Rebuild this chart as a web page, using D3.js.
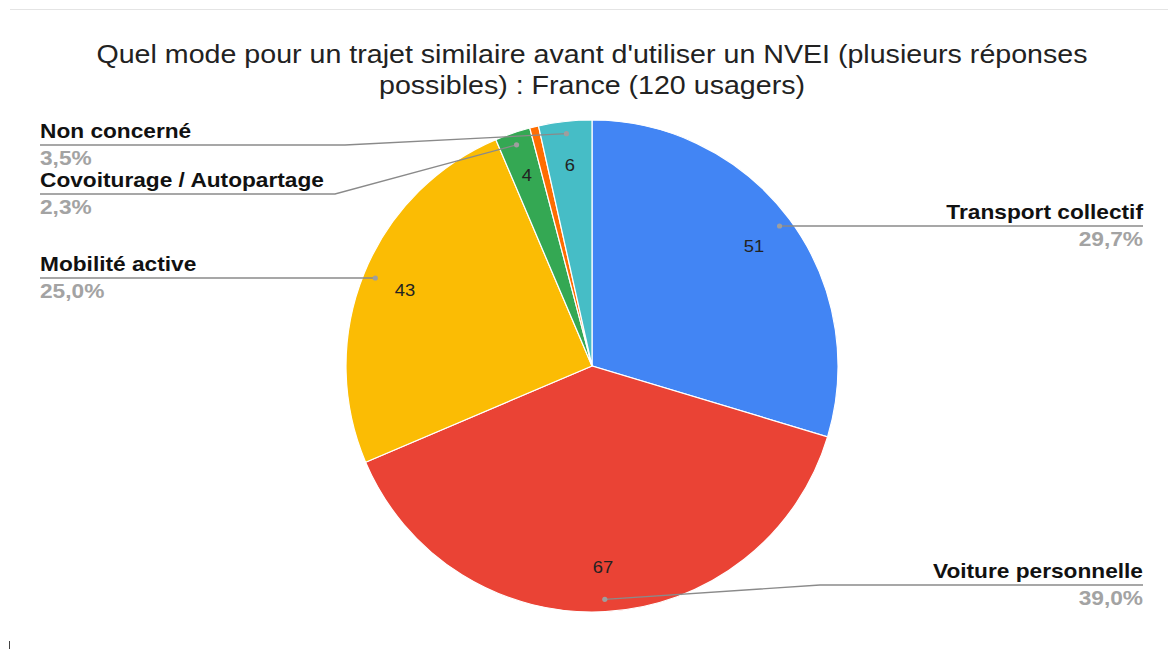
<!DOCTYPE html>
<html>
<head>
<meta charset="utf-8">
<script src="https://cdn.jsdelivr.net/npm/d3@7"></script>
<style>
  html, body { margin: 0; padding: 0; background: #fff; }
  svg { display: block; font-family: "Liberation Sans", Arial, sans-serif; }
</style>
</head>
<body>
<svg id="chart" width="1169" height="650"></svg>
<script>
// Survey answers, in drawing order (clockwise from 12 o'clock)
const categories = ["Transport collectif", "Voiture personnelle", "Mobilité active",
                    "Covoiturage / Autopartage", "Autre", "Non concerné"];
const values = [51, 67, 43, 4, 1, 6];
const colors = ["#4285F4", "#EA4335", "#FBBC04", "#34A853", "#FF6D01", "#46BDC6"];
const titleLines = ["Quel mode pour un trajet similaire avant d'utiliser un NVEI (plusieurs réponses",
                    "possibles) : France (120 usagers)"];

// Outside label placement: side, y of the underline, x of the bend (null = straight)
const callouts = [
  { i: 0, side: "right", y: 226, bend: null },
  { i: 1, side: "right", y: 585, bend: 820 },
  { i: 2, side: "left",  y: 278, bend: null },
  { i: 3, side: "left",  y: 194, bend: 335 },
  { i: 5, side: "left",  y: 145, bend: 345 }
];

const svg = d3.select("#chart");
const cx = 592, cy = 366, R = 246;
const total = d3.sum(values);
const fmtPct = v => (v / total * 100).toFixed(1).replace(".", ",") + "%";

// widen glyphs slightly (the typeface renders a little wide)
function widen(sel, k) {
  sel.each(function () {
    const w = this.getComputedTextLength();
    d3.select(this).attr("textLength", w * k).attr("lengthAdjust", "spacingAndGlyphs");
  });
  return sel;
}

// frame line and small mark
svg.append("line").attr("x1", 10).attr("x2", 1168).attr("y1", 9.5).attr("y2", 9.5)
  .attr("stroke", "#e4e4e4").attr("stroke-width", 1);
svg.append("line").attr("x1", 9.5).attr("x2", 9.5).attr("y1", 641).attr("y2", 649)
  .attr("stroke", "#444").attr("stroke-width", 1);

// title
const title = svg.append("g").selectAll("text").data(titleLines).join("text")
  .attr("x", cx).attr("y", (d, i) => 63 + i * 31)
  .attr("text-anchor", "middle")
  .attr("font-size", 26).attr("fill", "#222")
  .text(d => d);
widen(title, 1.1);

const pie = d3.pie().sort(null).value(d => d)(values);
const arc = d3.arc().innerRadius(0).outerRadius(R);
const g = svg.append("g").attr("transform", `translate(${cx},${cy})`);

g.selectAll("path").data(pie).join("path")
  .attr("d", arc)
  .attr("fill", (d, i) => colors[i])
  .attr("stroke", "#fff").attr("stroke-width", 1.2);

// value labels inside slices
const inner = d3.arc().innerRadius(R * 0.82).outerRadius(R * 0.82);
const vals = g.selectAll("text.val").data(pie.filter(d => d.data >= 2)).join("text")
  .attr("class", "val")
  .attr("transform", d => `translate(${inner.centroid(d)})`)
  .attr("text-anchor", "middle").attr("dy", "0.35em")
  .attr("font-size", 17).attr("fill", "#222")
  .text(d => d.data);
widen(vals, 1.08);

// callouts
const dotArc = d3.arc().innerRadius(R * 0.95).outerRadius(R * 0.95);
const xLeft = 40, xRight = 1143;
callouts.forEach(c => {
  const p = dotArc.centroid(pie[c.i]);
  const px = cx + p[0], py = cy + p[1];
  const xEnd = c.side === "left" ? xLeft : xRight;
  const pts = [[px, py]];
  if (c.bend !== null) pts.push([c.bend, c.y]);
  else pts[0] = [px, c.y];
  pts.push([xEnd, c.y]);
  svg.append("path")
    .attr("d", d3.line()(pts))
    .attr("fill", "none").attr("stroke", "#8a8a8a").attr("stroke-width", 1.3);
  svg.append("circle").attr("cx", px).attr("cy", c.bend === null ? c.y : py).attr("r", 2.6)
    .attr("fill", "#9e9e9e");
  const anchor = c.side === "left" ? "start" : "end";
  const name = svg.append("text").attr("x", xEnd).attr("y", c.y - 7)
    .attr("text-anchor", anchor).attr("font-size", 21).attr("font-weight", "bold")
    .attr("fill", "#111").text(categories[c.i]);
  const pct = svg.append("text").attr("x", xEnd).attr("y", c.y + 20)
    .attr("text-anchor", anchor).attr("font-size", 21).attr("font-weight", "bold")
    .attr("fill", "#a3a3a3").text(fmtPct(values[c.i]));
  widen(name, 1.08);
  widen(pct, 1.08);
});
</script>
</body>
</html>
